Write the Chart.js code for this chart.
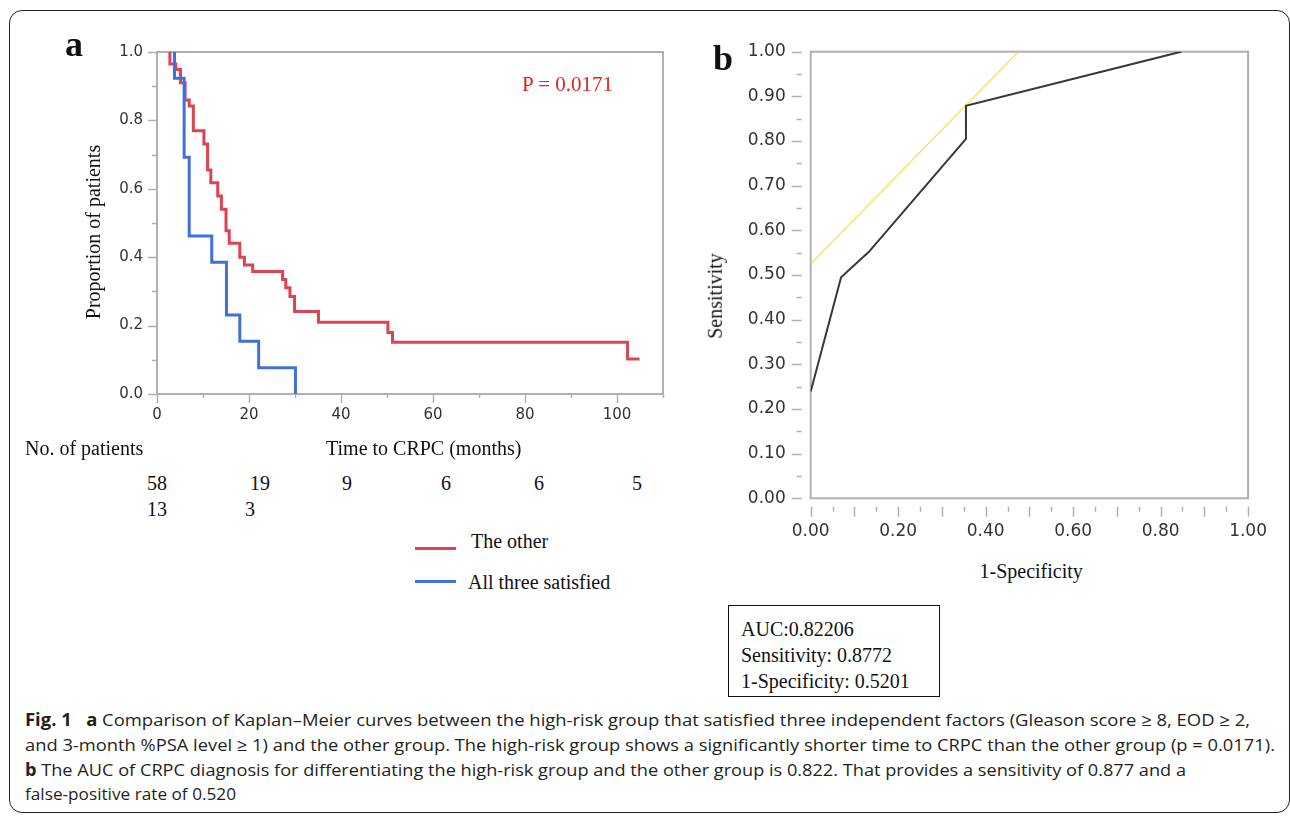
<!DOCTYPE html>
<html>
<head>
<meta charset="utf-8">
<script src="https://cdn.jsdelivr.net/npm/chart.js@4.4.1/dist/chart.umd.min.js"></script>
<style>
  body { margin: 0; background: #fff; width: 1290px; height: 816px; overflow: hidden; position: relative; }
  canvas { position: absolute; }
  .t { position: absolute; white-space: nowrap; line-height: 1; color: #111; }
  #frame { position: absolute; left: 9px; top: 10px; width: 1281px; height: 803px; border: 1.5px solid #222; border-radius: 13px; box-sizing: border-box; }
  #box { position: absolute; left: 728px; top: 605px; width: 212px; height: 92px; border: 1px solid #111; box-sizing: border-box; }
  .cap { position: absolute; left: 25px; font-family: "Open Sans", sans-serif; font-size: 17px; line-height: 1; color: #231f20; white-space: nowrap; transform-origin: 0 0; }
</style>
</head>
<body>
<div id="frame"></div>
<canvas id="km" width="700" height="440" style="left:0;top:0"></canvas>
<canvas id="roc" width="590" height="560" style="left:700px;top:0"></canvas>
<div id="box"></div>

<script>
// --- panel a: Kaplan-Meier, time to CRPC (months) vs proportion of patients
const otherMonths = [2.8, 2.8, 4.1, 5.1, 6.1, 7.0, 7.9, 10.2, 11.0, 11.7, 13.2, 14.0, 15.0, 15.7, 18.0, 19.0, 20.8, 27.3, 28.0, 28.9, 29.9, 35.1, 50.2, 51.2, 102.3, 104.9];
const otherSurv   = [1.0, 0.965, 0.949, 0.910, 0.860, 0.842, 0.770, 0.731, 0.655, 0.618, 0.579, 0.540, 0.477, 0.441, 0.400, 0.377, 0.358, 0.335, 0.311, 0.285, 0.241, 0.210, 0.180, 0.151, 0.102, 0.102];
const allMonths = [3.8, 3.8, 5.9, 7.0, 11.9, 15.1, 18.0, 22.1, 30.1];
const allSurv   = [1.0, 0.923, 0.692, 0.462, 0.385, 0.231, 0.154, 0.077, 0.0];

const kmXLabels = [0, 20, 40, 60, 80, 100];
const kmYLabels = [0, 0.2, 0.4, 0.6, 0.8, 1.0];

// numbers at risk
const riskOther = [58, 19, 9, 6, 6, 5];
const riskAll = [13, 3];

// --- panel b: ROC
const rocFpr = [0, 0.0695, 0.133, 0.355, 0.355, 0.847];
const rocTpr = [0.239, 0.495, 0.552, 0.805, 0.879, 1.0];
const tangentFpr = [0, 0.475];
const tangentTpr = [0.525, 1.0];

const rocXLabels = [0, 0.2, 0.4, 0.6, 0.8, 1.0];
const rocYLabels = [0, 0.1, 0.2, 0.3, 0.4, 0.5, 0.6, 0.7, 0.8, 0.9, 1.0];

const RED = '#dc4452';
const BLUE = '#4070e0';
const AXIS = '#b0b0b0';

function pts(xs, ys) { return xs.map((x, i) => ({ x: x, y: ys[i] })); }
function range(a, b, step) { const out = []; for (let i = 0; a + i * step <= b + 1e-9; i++) out.push(+(a + i * step).toFixed(4)); return out; }

// plot frame + major/minor tick marks drawn from the scales
const tickMarks = {
  id: 'tickMarks',
  beforeDatasetsDraw(chart, args, o) {
    const { ctx, chartArea: a } = chart;
    const xs = chart.scales.x, ys = chart.scales.y;
    ctx.save();
    ctx.strokeStyle = AXIS;
    ctx.lineWidth = 2;
    ctx.strokeRect(a.left, a.top, a.right - a.left, a.bottom - a.top);
    ctx.lineWidth = 1.5;
    o.x.values.forEach((v, i) => {
      const px = Math.round(xs.getPixelForValue(v)) + 0.5;
      const len = i % o.x.every === 0 ? o.x.major : o.x.minor;
      ctx.beginPath();
      ctx.moveTo(px, a.bottom + o.x.gap);
      ctx.lineTo(px, a.bottom + o.x.gap + len);
      ctx.stroke();
    });
    o.y.values.forEach((v, i) => {
      const py = Math.round(ys.getPixelForValue(v)) + 0.5;
      const len = i % o.y.every === 0 ? o.y.major : o.y.minor;
      ctx.beginPath();
      ctx.moveTo(a.left - o.y.gap, py);
      ctx.lineTo(a.left - o.y.gap - len, py);
      ctx.stroke();
    });
    ctx.restore();
  }
};

new Chart(document.getElementById('km'), {
  type: 'line',
  data: {
    datasets: [
      { label: 'All three satisfied', data: pts(allMonths, allSurv), borderColor: BLUE, borderWidth: 3, stepped: 'before', pointRadius: 0, fill: false },
      { label: 'The other', data: pts(otherMonths, otherSurv), borderColor: RED, borderWidth: 3, stepped: 'before', pointRadius: 0, fill: false }
    ]
  },
  options: {
    responsive: false,
    animation: false,
    devicePixelRatio: 1,
    layout: { padding: { left: 60, top: 52, right: 37, bottom: 6 } },
    plugins: {
      legend: { display: false },
      tooltip: { enabled: false },
      tickMarks: {
        x: { values: range(0, 110, 10), every: 2, major: 9, minor: 4, gap: 0 },
        y: { values: range(0, 1, 0.1), every: 2, major: 9, minor: 5, gap: 0 }
      }
    },
    scales: {
      x: {
        type: 'linear', min: 0, max: 110,
        grid: { display: false, drawTicks: false },
        border: { display: false },
        afterBuildTicks: s => { s.ticks = kmXLabels.map(v => ({ value: v })); },
        afterFit: s => { s.height = 40; },
        ticks: { padding: 12, color: '#333', maxRotation: 0, autoSkip: false, font: { family: 'DejaVu Sans', size: 15 } }
      },
      y: {
        type: 'linear', min: 0, max: 1,
        grid: { display: false, drawTicks: false },
        border: { display: false },
        afterBuildTicks: s => { s.ticks = kmYLabels.map(v => ({ value: v })); },
        afterFit: s => { s.width = 97; },
        ticks: { padding: 14, color: '#333', autoSkip: false, font: { family: 'DejaVu Sans', size: 15 }, callback: v => v.toFixed(1) }
      }
    }
  },
  plugins: [tickMarks]
});

new Chart(document.getElementById('roc'), {
  type: 'line',
  data: {
    datasets: [
      { label: 'ROC', data: pts(rocFpr, rocTpr), borderColor: '#383838', borderWidth: 2, pointRadius: 0, fill: false, tension: 0 },
      { label: 'Tangent', data: pts(tangentFpr, tangentTpr), borderColor: '#eee040', borderWidth: 1.2, pointRadius: 0, fill: false, tension: 0 }
    ]
  },
  options: {
    responsive: false,
    animation: false,
    devicePixelRatio: 1,
    layout: { padding: { left: 10.7, top: 51.7, right: 33.3, bottom: 11.7 } },
    plugins: {
      legend: { display: false },
      tooltip: { enabled: false },
      tickMarks: {
        x: { values: range(0, 1, 0.05), every: 2, major: 10, minor: 5, gap: 8.4 },
        y: { values: range(0, 1, 0.05), every: 2, major: 10, minor: 5, gap: 9 }
      }
    },
    scales: {
      x: {
        type: 'linear', min: 0, max: 1,
        grid: { display: false, drawTicks: false },
        border: { display: false },
        afterBuildTicks: s => { s.ticks = rocXLabels.map(v => ({ value: v })); },
        afterFit: s => { s.height = 50; },
        ticks: { padding: 23, color: '#333', maxRotation: 0, autoSkip: false, font: { family: 'DejaVu Sans', size: 17 }, callback: v => v.toFixed(2) }
      },
      y: {
        type: 'linear', min: 0, max: 1,
        grid: { display: false, drawTicks: false },
        border: { display: false },
        afterBuildTicks: s => { s.ticks = rocYLabels.map(v => ({ value: v })); },
        afterFit: s => { s.width = 100; },
        ticks: { padding: 25, color: '#333', autoSkip: false, font: { family: 'DejaVu Sans', size: 17 }, callback: v => v.toFixed(2) }
      }
    }
  },
  plugins: [tickMarks]
});

// --- text placed around the charts
const SERIF = '"Liberation Serif", "Times New Roman", serif';

function addText(txt, x, baseline, size, opts) {
  opts = opts || {};
  const d = document.createElement('div');
  d.className = 't';
  d.textContent = txt;
  d.style.fontFamily = SERIF;
  d.style.fontSize = size + 'px';
  if (opts.bold) d.style.fontWeight = 'bold';
  if (opts.color) d.style.color = opts.color;
  document.body.appendChild(d);
  d.style.top = (baseline - size * 0.8375) + 'px';
  d.style.left = (opts.center ? x - d.offsetWidth / 2 : x) + 'px';
  return d;
}

function addRotated(txt, cx, cy, size) {
  const d = document.createElement('div');
  d.className = 't';
  d.textContent = txt;
  d.style.fontFamily = SERIF;
  d.style.fontSize = size + 'px';
  document.body.appendChild(d);
  d.style.left = (cx - d.offsetWidth / 2) + 'px';
  d.style.top = (cy - size / 2) + 'px';
  d.style.transform = 'rotate(-90deg)';
  return d;
}

addText('a', 65, 56.5, 36, { bold: true });
addText('b', 713, 70, 36, { bold: true });
addText('P = 0.0171', 522, 92, 21, { color: '#e8201c' });
addRotated('Proportion of patients', 93, 232, 20);
addRotated('Sensitivity', 715, 296, 20);
addText('1-Specificity', 1031, 578, 20, { center: true });
addText('No. of patients', 25, 455, 20);
addText('Time to CRPC (months)', 326, 455, 20);

const riskOtherX = [157, 260, 347, 446, 539, 637];
const riskAllX = [157, 250];
riskOther.forEach((n, i) => addText(String(n), riskOtherX[i], 490, 20, { center: true }));
riskAll.forEach((n, i) => addText(String(n), riskAllX[i], 516, 20, { center: true }));

// legend
function legendLine(color, y) {
  const l = document.createElement('div');
  l.style.cssText = 'position:absolute;left:415px;width:41px;height:3px;background:' + color + ';top:' + (y - 1.5) + 'px';
  document.body.appendChild(l);
}
legendLine(RED, 548);
legendLine(BLUE, 581);
addText('The other', 471, 548, 20);
addText('All three satisfied', 468, 589, 20);

// stats box
addText('AUC:0.82206', 741, 636, 20);
addText('Sensitivity: 0.8772', 741, 662, 20);
addText('1-Specificity: 0.5201', 741, 688, 20);

// caption
const capLines = [
  { html: '<b>Fig. 1</b>&nbsp;&nbsp;&nbsp;<b>a</b> Comparison of Kaplan–Meier curves between the high-risk group that satisfied three independent factors (Gleason score ≥ 8, EOD ≥ 2,', right: 1250, y: 720 },
  { html: 'and 3-month %PSA level ≥ 1) and the other group. The high-risk group shows a significantly shorter time to CRPC than the other group (p = 0.0171).', right: 1275, y: 745 },
  { html: '<b>b</b> The AUC of CRPC diagnosis for differentiating the high-risk group and the other group is 0.822. That provides a sensitivity of 0.877 and a', right: 1186, y: 770 },
  { html: 'false-positive rate of 0.520', right: 236, y: 794 }
];
capLines.forEach(c => {
  const d = document.createElement('div');
  d.className = 'cap';
  d.innerHTML = c.html;
  document.body.appendChild(d);
  d.style.top = (c.y - 9) + 'px';
  const w = d.getBoundingClientRect().width;
  d.style.transform = 'scaleX(' + ((c.right - 25) / w).toFixed(4) + ')';
});
</script>
</body>
</html>
